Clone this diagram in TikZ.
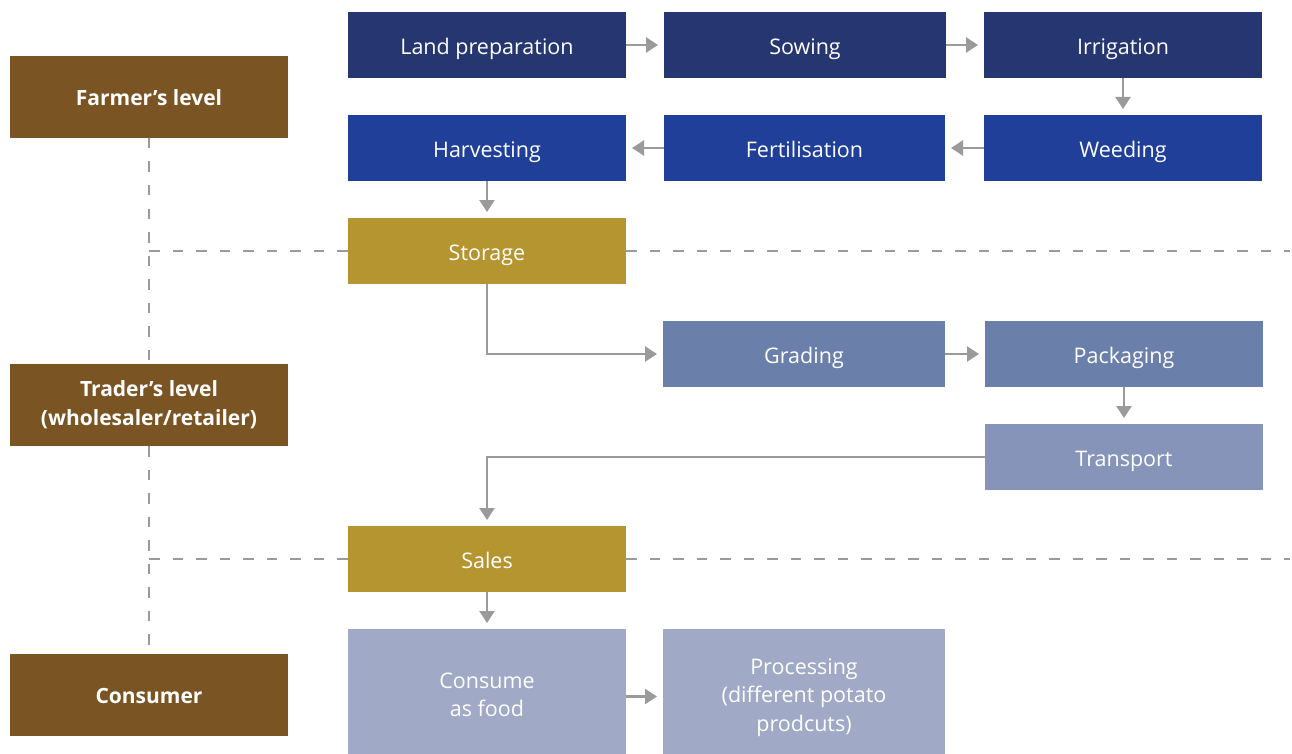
\documentclass[tikz,border=0pt]{standalone}
\usepackage{fontspec}
\setmainfont{Open Sans}
\usetikzlibrary{arrows.meta,calc}
\definecolor{navy}{HTML}{263670}
\definecolor{royal}{HTML}{1F3F99}
\definecolor{gold}{HTML}{B5952F}
\definecolor{brownc}{HTML}{7B5423}
\definecolor{steel}{HTML}{6B7FAB}
\definecolor{steellt}{HTML}{8594B8}
\definecolor{lilac}{HTML}{A0A9C6}
\definecolor{linegray}{HTML}{9A9A9C}
\tikzset{
  box/.style={draw=none, inner sep=0pt, outer sep=0pt, minimum height=66pt,
    text=white, align=center, font=\fontsize{21.5}{28.5}\selectfont},
  one/.style={box, text height=19pt, text depth=0pt},
  lvl/.style={box, fill=brownc, minimum width=278pt, minimum height=82pt,
    font=\fontsize{21}{29}\selectfont\bfseries},
  flow/.style={draw=linegray, line width=2.6pt, shorten >=6pt,
    -{Triangle[length=12pt,width=15pt]}},
  sep/.style={draw=linegray, line width=2pt, dash pattern=on 10.5pt off 13pt}
}
\begin{document}
\begin{tikzpicture}[x=1pt,y=-1pt]
\useasboundingbox (0,0) rectangle (1292,754);
% process boxes
\node[one, fill=navy, minimum width=278pt] (land) at (487,45) {Land preparation};
\node[one, fill=navy, minimum width=282pt] (sowing) at (805,45) {Sowing};
\node[one, fill=navy, minimum width=278pt] (irrig) at (1123,45) {Irrigation};
\node[one, fill=royal, minimum width=278pt] (harv) at (487,148) {Harvesting};
\node[one, fill=royal, minimum width=281pt] (fert) at (804.5,148) {Fertilisation};
\node[one, fill=royal, minimum width=278pt] (weed) at (1123,148) {Weeding};
\node[one, fill=gold, minimum width=278pt] (storage) at (487,251) {Storage};
\node[one, fill=steel, minimum width=282pt] (grading) at (804,354) {Grading};
\node[one, fill=steel, minimum width=278pt] (packaging) at (1124,354) {Packaging};
\node[one, fill=steellt, minimum width=278pt] (transport) at (1124,457) {Transport};
\node[one, fill=gold, minimum width=278pt] (sales) at (487,559) {Sales};
\node[box, fill=lilac, minimum width=278pt, minimum height=132pt] (consume) at (487,695) {Consume\\as food};
\node[box, fill=lilac, minimum width=282pt, minimum height=137pt] (processing) at (804,697.5) {Processing\\(different potato\\prodcuts)};
% level boxes
\node[lvl, text height=17pt, text depth=0pt] (farmer) at (149,97) {Farmer’s level};
\node[lvl] (trader) at (149,405) {Trader’s level\\(wholesaler/retailer)};
\node[lvl, text height=17pt, text depth=0pt] (consumer) at (149,695) {Consumer};
% separators
\coordinate (j1) at (farmer.south |- storage.west);
\coordinate (e1) at (1290,251);
\coordinate (j2) at (farmer.south |- sales.west);
\coordinate (e2) at (1290,559);
\draw[sep] (farmer.south) -- (trader.north);
\draw[sep] (trader.south) -- (consumer.north);
\draw[sep] (j1) -- (storage.west);
\draw[sep] (storage.east) -- (e1);
\draw[sep] (j2) -- (sales.west);
\draw[sep] (sales.east) -- (e2);
% flow arrows
\draw[flow] (land) -- (sowing);
\draw[flow] (sowing) -- (irrig);
\draw[flow] (irrig) -- (weed);
\draw[flow] (weed) -- (fert);
\draw[flow] (fert) -- (harv);
\draw[flow] (harv) -- (storage);
\draw[flow] (storage.south) |- (grading.west);
\draw[flow] (grading) -- (packaging);
\draw[flow] (packaging) -- (transport);
\draw[flow] (transport.west) -| (sales.north);
\draw[flow] (sales.south) -- (sales.south |- consume.north);
\draw[flow] ([yshift=-1.5pt]consume.east) -- ([yshift=-1.5pt]consume.east -| processing.west);
\end{tikzpicture}
\end{document}
